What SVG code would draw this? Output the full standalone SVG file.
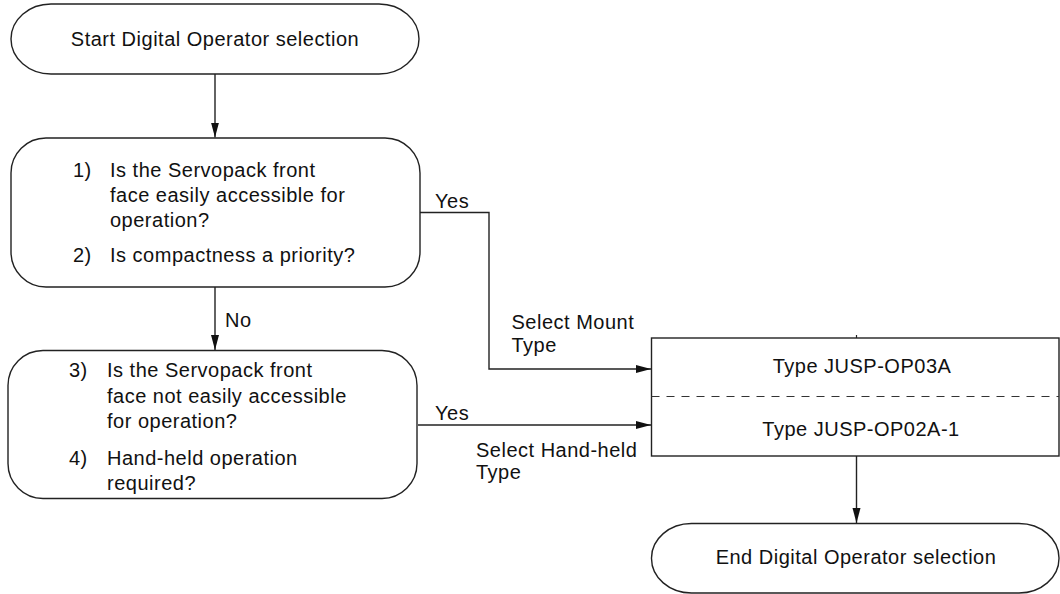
<svg xmlns="http://www.w3.org/2000/svg" width="1060" height="594" viewBox="0 0 1060 594">
<style>
.s{fill:#fff;stroke:#222;stroke-width:1.4}
.t{font-family:"Liberation Sans",Arial,Helvetica,sans-serif;font-size:20px;letter-spacing:0.5px;fill:#111}
.m{text-anchor:middle}
.c{fill:none;stroke:#222;stroke-width:1.4}
</style>
<defs>
<marker id="ah" markerUnits="userSpaceOnUse" markerWidth="16" markerHeight="10" refX="15" refY="4" orient="auto">
<path d="M0,0 L15,4 L0,8 z" fill="#111"/>
</marker>
</defs>
<rect width="1060" height="594" fill="#fff"/>
<g id="connectors">
<path class="c" d="M215,74 V137.5" marker-end="url(#ah)"/>
<path class="c" d="M215,287 V350" marker-end="url(#ah)"/>
<path class="c" d="M420,212.5 H489 V369 H651" marker-end="url(#ah)"/>
<path class="c" d="M418,425 H651" marker-end="url(#ah)"/>
<path class="c" d="M856.5,456 V523" marker-end="url(#ah)"/>
<text class="t" x="435" y="208">Yes</text>
<text class="t" x="225" y="327">No</text>
<text class="t" x="511.5" y="328.5">Select Mount</text>
<text class="t" x="511.5" y="352">Type</text>
<text class="t" x="435" y="420">Yes</text>
<text class="t" x="476" y="456.5">Select Hand-held</text>
<text class="t" x="476" y="478.5">Type</text>
</g>
<g id="start">
<rect class="s" x="11" y="4" width="408" height="70" rx="40" ry="35"/>
<text class="t m" x="215" y="45.5">Start Digital Operator selection</text>
</g>
<g id="q1">
<rect class="s" x="11" y="138" width="409" height="149" rx="35" ry="35"/>
<text class="t" x="73" y="177">1)</text>
<text class="t" x="110" y="177">Is the Servopack front</text>
<text class="t" x="110" y="202">face easily accessible for</text>
<text class="t" x="110" y="227">operation?</text>
<text class="t" x="73" y="262">2)</text>
<text class="t" x="110" y="262">Is compactness a priority?</text>
</g>
<g id="q2">
<rect class="s" x="8" y="350.5" width="409" height="148" rx="35" ry="35"/>
<text class="t" x="69" y="377">3)</text>
<text class="t" x="107" y="377">Is the Servopack front</text>
<text class="t" x="107" y="403">face not easily accessible</text>
<text class="t" x="107" y="428">for operation?</text>
<text class="t" x="69" y="465">4)</text>
<text class="t" x="107" y="465">Hand-held operation</text>
<text class="t" x="107" y="490">required?</text>
</g>
<g id="types">
<rect class="s" x="651.5" y="338" width="407.5" height="118"/>
<line x1="856.5" y1="335" x2="856.5" y2="338" stroke="#222" stroke-width="1.2"/>
<line x1="651.5" y1="396.5" x2="1059" y2="396.5" stroke="#333" stroke-width="1.2" stroke-dasharray="8 7"/>
<text class="t m" x="862" y="372.5">Type JUSP-OP03A</text>
<text class="t m" x="861" y="435.5">Type JUSP-OP02A-1</text>
</g>
<g id="end">
<rect class="s" x="651.5" y="523.5" width="407.5" height="69.5" rx="40" ry="34.5"/>
<text class="t m" x="856" y="564">End Digital Operator selection</text>
</g>
</svg>
